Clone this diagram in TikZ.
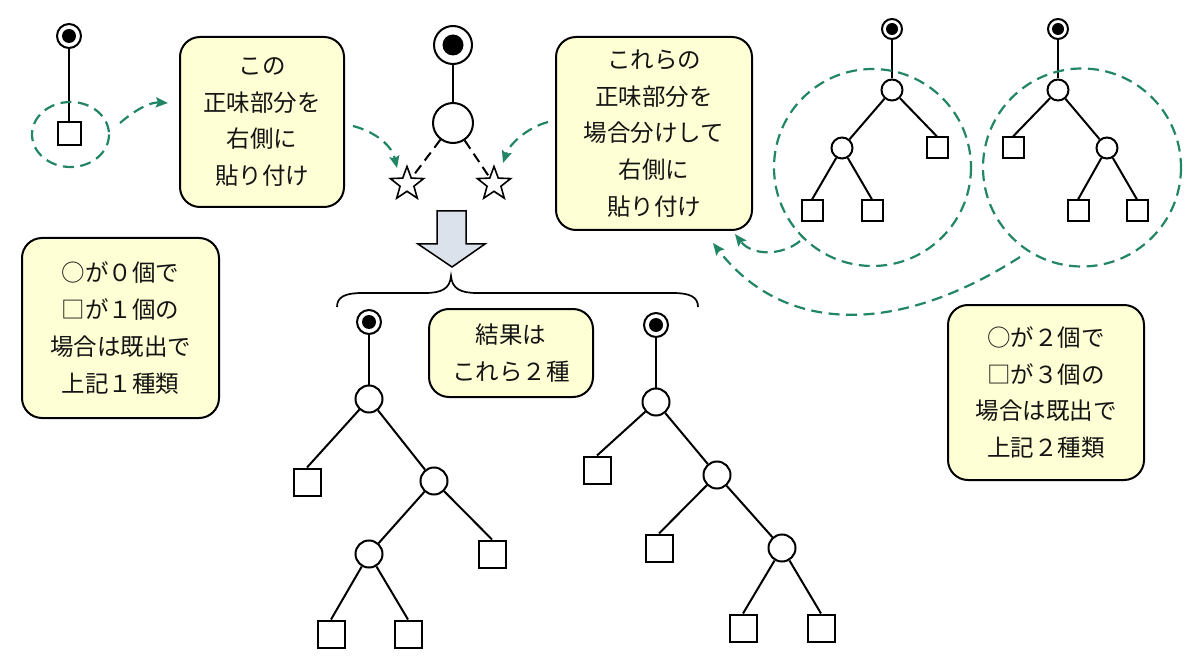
\documentclass[tikz,border=0pt]{standalone}
\usepackage{fontspec}
\newfontfamily\jp{Noto Sans CJK JP}
\usetikzlibrary{shapes.geometric,arrows.meta}
\definecolor{notefill}{RGB}{255,255,213}
\definecolor{gline}{RGB}{34,134,102}
\definecolor{txt}{RGB}{20,20,20}
\definecolor{blockfill}{RGB}{220,226,236}
\newcommand\notefont{\jp\fontsize{23.5}{36.7}\selectfont}
\tikzset{
  edge/.style={line width=2pt, black},
  leafS/.style={draw, line width=2pt, fill=white, minimum size=21pt, inner sep=0pt},
  leafM/.style={draw, line width=2pt, fill=white, minimum size=23pt, inner sep=0pt},
  leafL/.style={draw, line width=2pt, fill=white, minimum size=27pt, inner sep=0pt},
  knotS/.style={circle, draw, line width=2pt, fill=white, minimum size=21pt, inner sep=0pt},
  knotL/.style={circle, draw, line width=2pt, fill=white, minimum size=27pt, inner sep=0pt},
  knotXL/.style={circle, draw, line width=2pt, fill=white, minimum size=40pt, inner sep=0pt},
  bullS/.style={circle, draw, line width=2pt, fill=white, minimum size=20pt, inner sep=0pt,
    path picture={\fill[black] (path picture bounding box.center) circle (6pt);}},
  bullM/.style={circle, draw, line width=2pt, fill=white, minimum size=24pt, inner sep=0pt,
    path picture={\fill[black] (path picture bounding box.center) circle (7pt);}},
  bullL/.style={circle, draw, line width=2pt, fill=white, minimum size=38pt, inner sep=0pt,
    path picture={\fill[black] (path picture bounding box.center) circle (10.5pt);}},
  starnode/.style={star, star points=5, star point ratio=2.4, draw, line width=1.6pt,
    minimum size=35pt, inner sep=0pt, fill=white},
  note/.style={draw, line width=2pt, fill=notefill, rounded corners=20pt, align=center,
    font=\notefont, text=txt, inner sep=0pt},
  gdash/.style={gline, line width=2.2pt, dash pattern=on 11pt off 6.5pt},
  garrow/.style={gdash, -{Stealth[length=12pt,width=10pt,inset=2pt]}},
}
\begin{document}
\begin{tikzpicture}[x=1pt,y=-1pt]
\useasboundingbox[fill=white] (0,0) rectangle (1200,663);

% ---------- top-left small tree ----------
\node[bullM] (tlb) at (69,36) {};
\node[leafM] (tls) at (69,134) {};
\draw[edge] (tlb) -- (tls.north);
\draw[gdash] (70.5,134.5) ellipse [x radius=38.5, y radius=32.5];

% ---------- notes ----------
\node[note, minimum width=164pt, minimum height=170pt] (n1) at (262,122)
  {この\\正味部分を\\右側に\\貼り付け};
\node[note, minimum width=196pt, minimum height=193pt] (n2) at (654,133.5)
  {これらの\\正味部分を\\場合分けして\\右側に\\貼り付け};
\node[note, minimum width=197pt, minimum height=180pt] (n3) at (120.5,328)
  {○が０個で\\□が１個の\\場合は既出で\\上記１種類};
\node[note, minimum width=164pt, minimum height=88pt] (n4) at (511,353)
  {結果は\\これら２種};
\node[note, minimum width=196pt, minimum height=175pt] (n5) at (1046,392.5)
  {○が２個で\\□が３個の\\場合は既出で\\上記２種類};

% ---------- center tree with stars ----------
\node[bullL] (cb) at (453,45) {};
\node[knotXL] (cc) at (453,123) {};
\node[starnode] (st1) at (407,184) {};
\node[starnode] (st2) at (494,184) {};
\draw[edge] (cb) -- (cc);
\draw[edge, dash pattern=on 10pt off 6pt] (cc) -- (st1);
\draw[edge, dash pattern=on 10pt off 6pt] (cc) -- (st2);

% ---------- block arrow ----------
\draw[line width=1.5pt, fill=blockfill, line join=miter]
  (437,211) -- (466,211) -- (466,244) -- (485,244) -- (452,267) -- (418,244) -- (437,244) -- cycle;

% ---------- brace ----------
\draw[line width=1.7pt]
  (337,307) .. controls (337,297) and (345,293) .. (362,293) -- (425,293)
  .. controls (441,293) and (450,289) .. (451,276)
  .. controls (452,289) and (461,293) .. (477,293) -- (673,293)
  .. controls (690,293) and (698,297) .. (698,307);

% ---------- top-right tree A ----------
\node[bullS] (ab) at (892,29) {};
\node[knotS] (ac) at (892,90) {};
\node[knotS] (al) at (842,148) {};
\node[leafS] (ar) at (937,148) {};
\node[leafS] (all) at (812,211) {};
\node[leafS] (alr) at (872,211) {};
\draw[edge] (ab) -- (ac);
\draw[edge] (ac) -- (al);
\draw[edge] (ac) -- (ar.north);
\draw[edge] (al) -- (all.north);
\draw[edge] (al) -- (alr.north);
\draw[gdash] (872.5,167.5) circle (98.5);

% ---------- top-right tree B ----------
\node[bullS] (bb) at (1058,29) {};
\node[knotS] (bc) at (1058,90) {};
\node[leafS] (bl) at (1013,148) {};
\node[knotS] (br) at (1107,148) {};
\node[leafS] (brl) at (1078,211) {};
\node[leafS] (brr) at (1137,211) {};
\draw[edge] (bb) -- (bc);
\draw[edge] (bc) -- (bl.north);
\draw[edge] (bc) -- (br);
\draw[edge] (br) -- (brl.north);
\draw[edge] (br) -- (brr.north);
\draw[gdash] (1082,167.5) circle (99);

% ---------- bottom-left result tree ----------
\node[bullM] (pb) at (369,322) {};
\node[knotL] (pc) at (369,399) {};
\node[leafL] (pl) at (307,482) {};
\node[knotL] (pr) at (434,481) {};
\node[knotL] (prl) at (369,554) {};
\node[leafL] (prr) at (492,554) {};
\node[leafL] (prll) at (331,634) {};
\node[leafL] (prlr) at (408,634) {};
\draw[edge] (pb) -- (pc);
\draw[edge] (pc) -- (pl.north);
\draw[edge] (pc) -- (pr);
\draw[edge] (pr) -- (prl);
\draw[edge] (pr) -- (prr.north);
\draw[edge] (prl) -- (prll.north);
\draw[edge] (prl) -- (prlr.north);

% ---------- bottom-right result tree ----------
\node[bullM] (qb) at (656,325) {};
\node[knotL] (qc) at (656,402) {};
\node[leafL] (ql) at (597,470) {};
\node[knotL] (qr) at (717,475) {};
\node[leafL] (qrl) at (659,548) {};
\node[knotL] (qrr) at (782,548) {};
\node[leafL] (qrrl) at (743,628) {};
\node[leafL] (qrrr) at (821,628) {};
\draw[edge] (qb) -- (qc);
\draw[edge] (qc) -- (ql.north);
\draw[edge] (qc) -- (qr);
\draw[edge] (qr) -- (qrl.north);
\draw[edge] (qr) -- (qrr);
\draw[edge] (qrr) -- (qrrl.north);
\draw[edge] (qrr) -- (qrrr.north);

% ---------- green arrows ----------
\coordinate (g1s) at (120,123);
\coordinate (g1e) at (168,103);
\draw[garrow] (g1s) .. controls (135,110) and (150,102) .. (g1e);
\coordinate (g2s) at (353,126);
\coordinate (g2e) at (397,168);
\draw[garrow] (g2s) .. controls (376,132) and (392,146) .. (g2e);
\coordinate (g3s) at (548,122);
\coordinate (g3e) at (503,163);
\draw[garrow] (g3s) .. controls (526,128) and (509,145) .. (g3e);
\coordinate (g4s) at (800,241);
\coordinate (g4e) at (735,234);
\draw[garrow] (g4s) .. controls (782,256) and (752,256) .. (g4e);
\coordinate (g5s) at (1020,257);
\coordinate (g5e) at (713,243);
\draw[garrow] (g5s) .. controls (890,340) and (780,330) .. (g5e);
\end{tikzpicture}
\end{document}
